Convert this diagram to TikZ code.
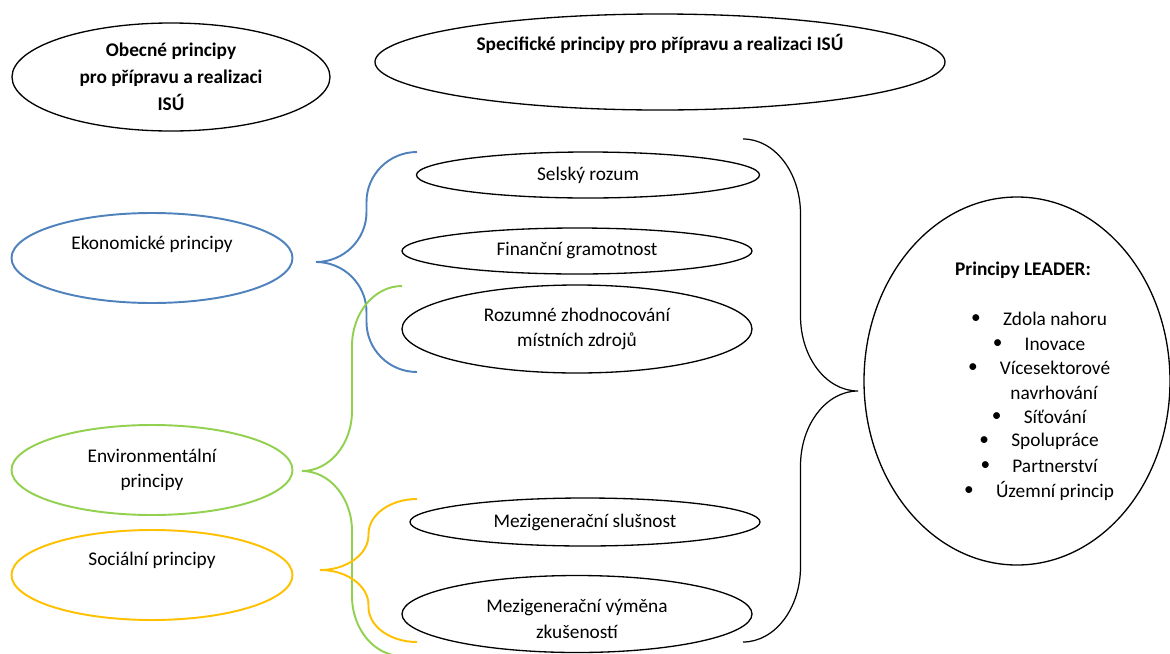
\documentclass[tikz,border=0pt]{standalone}
\usepackage{fontspec}
\setmainfont{Carlito}
\usetikzlibrary{shapes.geometric,positioning,calc}
\definecolor{ekoblue}{RGB}{79,129,189}
\definecolor{envgreen}{RGB}{146,208,80}
\definecolor{socyellow}{RGB}{255,192,0}
% curly brace: top end, tip, bottom end, bend (px)
\newcommand{\curly}[5][]{%
\draw[#1] let \p1=(#2), \p2=(#3), \p3=(#4), \p4=($(#2)!.5!(#3)$), \p5=(0,-#5),
  \n1={\x1+0.552*(\x4-\x1)}, \n2={\x2+0.552*(\x4-\x2)} in
(\p1) .. controls (\n1,\y1) and (\x4,{\y1-0.448*\y5}) .. (\x4,{\y1-\y5})
-- (\x4,{\y2+\y5}) .. controls (\x4,{\y2+0.448*\y5}) and (\n2,\y2) .. (\p2)
.. controls (\n2,\y2) and (\x4,{\y2-0.448*\y5}) .. (\x4,{\y2-\y5})
-- (\x4,{\y3+\y5}) .. controls (\x4,{\y3+0.448*\y5}) and (\n1,\y3) .. (\p3);}

\begin{document}
\begin{tikzpicture}[x=0.02cm, y=-0.02cm,
every node/.style={font=\fontsize{11}{14.5}\selectfont, align=center, inner sep=1pt},
oval/.style 2 args={draw, ellipse, inner sep=0pt, line width=0.75pt, minimum width=#1*0.02cm, minimum height=#2*0.02cm},
head/.style={font=\fontsize{11}{15.3}\selectfont\bfseries},
item/.style={label={[label distance=0.36cm]left:\textbullet}},
brace/.style={line width=1.1pt}]
\useasboundingbox (0,0) rectangle (1170,653);

% top row
\node[oval={318}{108}, head] (obecne) at (171,77) {Obecné principy\\pro přípravu a realizaci\\ISÚ};
\node[oval={570}{96}] (spec) at (660,62) {};
\node[head] (spec-text) at (660,44) {Specifické principy pro přípravu a realizaci ISÚ};

% pillars
\node[oval={281}{90}, draw=ekoblue, line width=1.1pt] (eko) at (152,258) {};
\node (eko-text) at (152,244) {Ekonomické principy};
\node[oval={281}{90}, draw=envgreen, line width=1.1pt] (env) at (152,470) {Environmentální\\principy};
\node[oval={281}{90}, draw=socyellow, line width=1.1pt] (soc) at (152,575) {};
\node (soc-text) at (152,560) {Sociální principy};

% specific principles
\node[oval={343}{46}] (selsky) at (588,175) {Selský rozum};
\node[oval={350}{46}] (financni) at (577,251) {Finanční gramotnost};
\node[oval={350}{88}] (rozumne) at (577,329) {Rozumné zhodnocování\\místních zdrojů};
\node[oval={350}{48}] (slusnost) at (585,522) {Mezigenerační slušnost};
\node[oval={350}{77}] (vymena) at (577,614) {};
\node (vymena-text) at (577,619) {Mezigenerační výměna\\zkušeností};

% LEADER
\node[oval={306}{368}] (leader) at (1017,381) {};
\node[font=\fontsize{11}{14.5}\selectfont\bfseries] (leader-head) at (1023,270) {Principy LEADER:};
\foreach \y/\txt in {319/Zdola nahoru, 344/Inovace, 368/Vícesektorové, 417/Síťování, 441/Spolupráce, 466/Partnerství, 491/Územní princip}
  \node[item] (lead-\y) at (1055,\y) {\txt};
\node (lead-393) at (1054,393) {navrhování};

% braces
\coordinate (eko-tip) at (316,262);
\coordinate (eko-top) at (417,152);
\coordinate (eko-bot) at (417,372);
\coordinate (env-tip) at (302,471);
\coordinate (env-top) at (402,286);
\coordinate (env-bot) at (402,656);
\coordinate (soc-tip) at (320,570);
\coordinate (soc-top) at (417,499);
\coordinate (soc-bot) at (417,642);
\coordinate (lead-tip) at (858,391);
\coordinate (spec-top) at (743,139);
\coordinate (spec-bot) at (743,642);

\curly[brace, ekoblue]{eko-top}{eko-tip}{eko-bot}{50}
\curly[brace, envgreen]{env-top}{env-tip}{env-bot}{60}
\curly[brace, socyellow]{soc-top}{soc-tip}{soc-bot}{35}
\curly[line width=0.7pt]{spec-top}{lead-tip}{spec-bot}{75}
\end{tikzpicture}
\end{document}
